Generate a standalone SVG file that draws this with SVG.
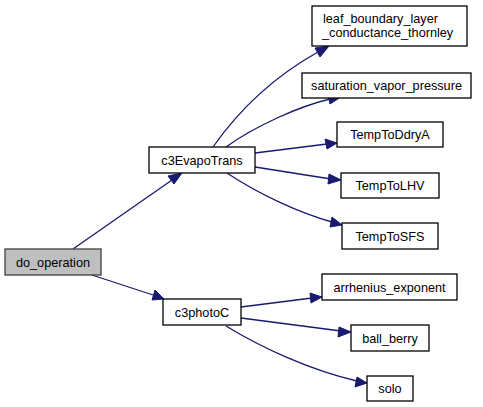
<svg xmlns="http://www.w3.org/2000/svg" width="483" height="407" viewBox="0 0 483 407">
<defs>
<style>
.n rect{fill:#fff;stroke:#000;stroke-width:1.3}
.n.root rect{fill:#bfbfbf;stroke:#404040}
.n text{font-family:"Liberation Sans",Arial,sans-serif;font-size:12.7px;fill:#000;text-anchor:middle}
.n text.l{text-anchor:start}
.e path{fill:none;stroke:#191970;stroke-width:1.3}
.e polygon{fill:#191970;stroke:#191970;stroke-width:1}
</style>
</defs>
<rect width="483" height="407" fill="#fff"/>
<g class="e" id="edges">
<path d="M73,249 L172,180"/><polygon points="182,173 168,176 174,184"/>
<path d="M92,275 L153,295"/><polygon points="164,299 155,290 152,300"/>
<path d="M213,147 C234,117 268,80 318,52"/><polygon points="329,46 315,48 320,57"/>
<path d="M226,147 C255,126 300,106 330,99"/><polygon points="341,97 328,94 330,104"/>
<path d="M255,153 L327,144"/><polygon points="337,143 325,139 327,149"/>
<path d="M255,167 L331,179"/><polygon points="341,180 329,174 328,184"/>
<path d="M227,173 C260,195 300,213 332,222"/><polygon points="342,225 332,217 330,227"/>
<path d="M241,307 L312,298"/><polygon points="322,297 310,293 311,303"/>
<path d="M241,318 L341,331"/><polygon points="351,332 339,327 338,337"/>
<path d="M226,326 C262,348 310,370 357,381"/><polygon points="367,383 357,377 355,387"/>
</g>
<g class="n root" id="do_operation"><rect x="5" y="249" width="96" height="26"/><text x="53" y="266.5">do_operation</text></g>
<g class="n" id="c3EvapoTrans"><rect x="149" y="147" width="106" height="26"/><text x="202" y="164.5">c3EvapoTrans</text></g>
<g class="n" id="c3photoC"><rect x="163" y="299" width="78" height="26"/><text x="202" y="316.5">c3photoC</text></g>
<g class="n" id="leaf_boundary_layer_conductance_thornley"><rect x="312" y="6" width="155" height="40"/><text class="l" x="323" y="22.5">leaf_boundary_layer</text><text class="l" x="322" y="36.5">_conductance_thornley</text></g>
<g class="n" id="saturation_vapor_pressure"><rect x="302" y="73" width="169" height="25"/><text x="386.5" y="90">saturation_vapor_pressure</text></g>
<g class="n" id="TempToDdryA"><rect x="337" y="122" width="106" height="25"/><text x="390" y="139">TempToDdryA</text></g>
<g class="n" id="TempToLHV"><rect x="341" y="173" width="98" height="25"/><text x="390" y="190">TempToLHV</text></g>
<g class="n" id="TempToSFS"><rect x="342" y="223" width="96" height="26"/><text x="390" y="240.5">TempToSFS</text></g>
<g class="n" id="arrhenius_exponent"><rect x="322" y="274" width="135" height="26"/><text x="389.5" y="291.5">arrhenius_exponent</text></g>
<g class="n" id="ball_berry"><rect x="351" y="325" width="78" height="26"/><text x="390" y="342.5">ball_berry</text></g>
<g class="n" id="solo"><rect x="367" y="376" width="46" height="25"/><text x="390" y="393">solo</text></g>
</svg>
